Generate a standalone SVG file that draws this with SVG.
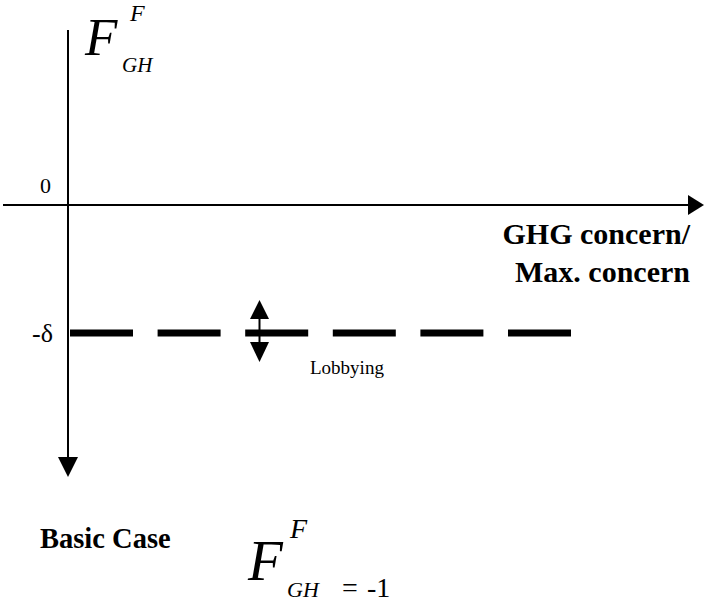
<svg xmlns="http://www.w3.org/2000/svg" width="707" height="603" viewBox="0 0 707 603">
<defs>
<style>
text{font-family:"Liberation Serif","Times New Roman","DejaVu Serif",serif;fill:#000}
.it{font-style:italic}
.bd{font-weight:bold}
.ax{stroke:#000;stroke-width:2;fill:none}
.head{fill:#000}
</style>
</defs>
<rect width="707" height="603" fill="#fff"/>
<g id="connectors">
<line class="ax" x1="68" y1="30" x2="68" y2="458"/>
<path class="head" d="M58,457 L78,457 L68,477 Z"/>
<line class="ax" x1="3" y1="205" x2="690" y2="205"/>
<path class="head" d="M688,195 L704,205 L688,215 Z"/>
<line x1="70" y1="333" x2="572" y2="333" stroke="#000" stroke-width="7" stroke-dasharray="63 24.6"/>
<line x1="259.5" y1="316" x2="259.5" y2="345" stroke="#000" stroke-width="2"/>
<path class="head" d="M250,319 L269,319 L259.5,300 Z"/>
<path class="head" d="M250,342 L269,342 L259.5,362 Z"/>
</g>
<g id="ylabel">
<text class="it" x="85" y="55" font-size="53">F</text>
<text class="it" x="130" y="21" font-size="24">F</text>
<text class="it" x="122" y="72" font-size="21">GH</text>
</g>
<g id="zero"><text x="40" y="193" font-size="22">0</text></g>
<g id="delta"><text x="32" y="342" font-size="26">-δ</text></g>
<g id="xlabel">
<text class="bd" x="690" y="244" font-size="30" text-anchor="end">GHG concern/</text>
<text class="bd" x="690" y="282" font-size="30" text-anchor="end">Max. concern</text>
</g>
<g id="lobbying"><text x="310" y="374" font-size="19">Lobbying</text></g>
<g id="basic"><text class="bd" x="40" y="548" font-size="28.5">Basic Case</text></g>
<g id="formula">
<text class="it" x="248" y="580" font-size="57">F</text>
<text class="it" x="290" y="538" font-size="28">F</text>
<text class="it" x="287" y="597" font-size="22">GH</text>
<text x="342" y="597" font-size="28">=</text>
<text x="367" y="597" font-size="28">-1</text>
</g>
</svg>
